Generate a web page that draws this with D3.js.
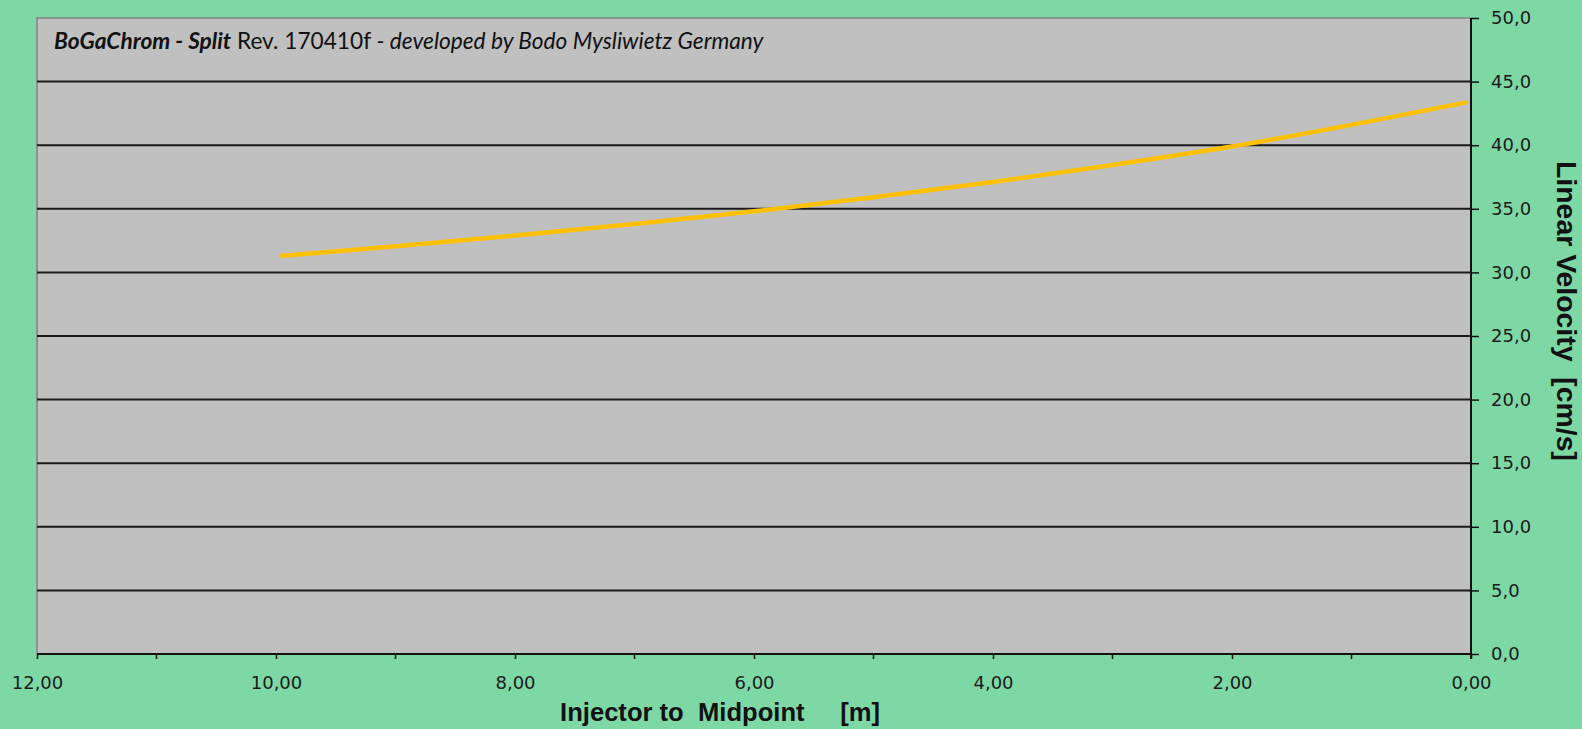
<!DOCTYPE html>
<html><head><meta charset="utf-8">
<script src="https://cdn.jsdelivr.net/npm/d3@7"></script>
<style>html,body{margin:0;padding:0;background:#7dd8a6;overflow:hidden}</style>
</head><body>
<svg id="c" width="1582" height="729"></svg>
<script>
// Data
const distance = [9.95, 9, 8, 7, 6, 5, 4, 3, 2, 1, 0.05];
const velocity = [31.3, 32.05, 32.9, 33.8, 34.8, 35.9, 37.1, 38.45, 39.9, 41.6, 43.35];
const xTicks = [12, 10, 8, 6, 4, 2, 0];
const xMinorTicks = [11, 9, 7, 5, 3, 1];
const yTicks = [0, 5, 10, 15, 20, 25, 30, 35, 40, 45, 50];

const svg = d3.select("#c");
const L = 37, R = 1471, T = 18, B = 654;
const x = d3.scaleLinear().domain([12, 0]).range([L, R]);
const y = d3.scaleLinear().domain([0, 50]).range([B, T]);
const fmt1 = d => d.toFixed(1).replace(".", ",");
const fmt2 = d => d.toFixed(2).replace(".", ",");

svg.append("rect").attr("x", L).attr("y", T).attr("width", R - L).attr("height", B - T)
  .attr("fill", "#c0c0c0");
svg.append("path").attr("d", `M${L},${B}V${T}H${R}`).attr("fill", "none")
  .attr("stroke", "#808080").attr("stroke-width", 1.5);

// grid
svg.append("g").selectAll("line").data(yTicks.filter(d => d > 0 && d < 50)).join("line")
  .attr("x1", L).attr("x2", R).attr("y1", d => y(d)).attr("y2", d => y(d))
  .attr("stroke", "#1a1a1a").attr("stroke-width", 2);

// right y axis
const yAxis = svg.append("g").attr("transform", `translate(${R},0)`)
  .call(d3.axisRight(y).tickValues(yTicks).tickFormat(fmt1).tickSize(8).tickPadding(12));
yAxis.select(".domain").attr("stroke", "#111").attr("stroke-width", 2).attr("d", `M0,${T}V${B + 5}`);
yAxis.selectAll(".tick line").attr("stroke", "#111").attr("stroke-width", 1.5);
yAxis.selectAll("text").attr("font-family", "DejaVu Sans").attr("font-size", 18).attr("fill", "#1a1a1a");

// bottom x axis
const xAxis = svg.append("g").attr("transform", `translate(0,${B})`)
  .call(d3.axisBottom(x).tickValues(xTicks).tickFormat(fmt2).tickSize(5).tickPadding(17));
xAxis.select(".domain").attr("stroke", "#111").attr("stroke-width", 2).attr("d", `M${L},0H${R}`);
xAxis.selectAll(".tick line").attr("stroke", "#111").attr("stroke-width", 1.5);
xAxis.selectAll("text").attr("font-family", "DejaVu Sans").attr("font-size", 18).attr("fill", "#1a1a1a");
svg.append("g").attr("transform", `translate(0,${B})`).selectAll("line").data(xMinorTicks).join("line")
  .attr("x1", d => x(d)).attr("x2", d => x(d)).attr("y1", 0).attr("y2", 5)
  .attr("stroke", "#111").attr("stroke-width", 1.5);

// line
const line = d3.line().x((d, i) => x(distance[i])).y(d => y(d)).curve(d3.curveMonotoneX);
svg.append("path").datum(velocity).attr("d", line).attr("fill", "none")
  .attr("stroke", "#ffc000").attr("stroke-width", 4.5).attr("stroke-linecap", "round");

function fitWidth(sel, base, target) {
  sel.attr("font-size", base);
  const w = sel.node().getComputedTextLength();
  sel.attr("font-size", base * target / w);
}

// title
const t = svg.append("text").attr("x", 54).attr("y", 49).attr("font-family", "Lato").attr("fill", "#111");
t.append("tspan").attr("font-weight", "bold").attr("font-style", "italic").text("BoGaChrom - Split");
t.append("tspan").text(" Rev. 170410f ");
t.append("tspan").attr("font-style", "italic").text("- developed by Bodo Mysliwietz Germany");
fitWidth(t, 20, 710);

// axis titles
const xl = svg.append("text").attr("x", 720).attr("y", 721).attr("text-anchor", "middle")
  .attr("font-family", "Liberation Sans").attr("font-weight", "bold")
  .attr("fill", "#111").attr("xml:space", "preserve").text("Injector to  Midpoint     [m]");
fitWidth(xl, 22, 320);
const yl = svg.append("text").attr("transform", "translate(1557,311) rotate(90)").attr("text-anchor", "middle")
  .attr("font-family", "Liberation Sans").attr("font-weight", "bold")
  .attr("fill", "#111").attr("xml:space", "preserve").text("Linear Velocity  [cm/s]");
fitWidth(yl, 22, 300);
</script>
</body></html>
